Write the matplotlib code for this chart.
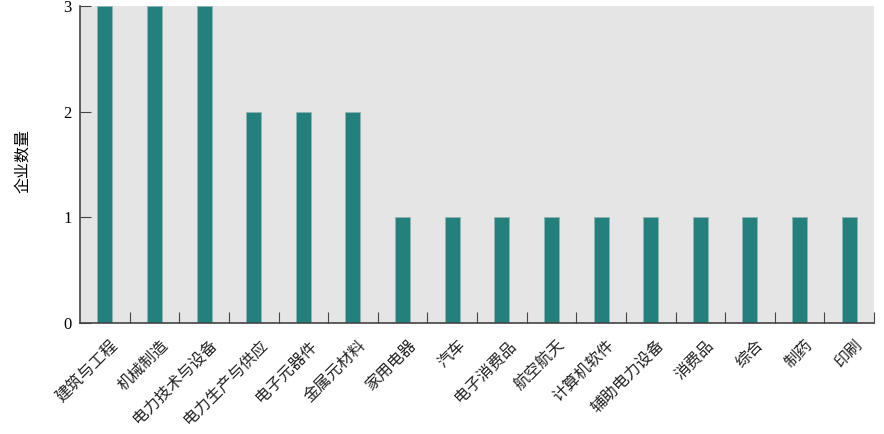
import matplotlib
matplotlib.use("Agg")
from matplotlib import pyplot as plt
import numpy as np

categories = ["建筑与工程", "机械制造", "电力技术与设备", "电力生产与供应", "电子元器件",
              "金属元材料", "家用电器", "汽车", "电子消费品", "航空航天", "计算机软件",
              "辅助电力设备", "消费品", "综合", "制药", "印刷"]
counts = [3, 3, 3, 2, 2, 2, 1, 1, 1, 1, 1, 1, 1, 1, 1, 1]

plt.rcParams['font.family'] = ['Noto Sans CJK SC', 'DejaVu Sans']

fig = plt.figure(figsize=(8.84, 4.34), dpi=100)
ax = fig.add_axes([80 / 884, 1 - 323 / 434, (874 - 80) / 884, (323 - 6) / 434])
ax.set_facecolor('#e5e5e5')

x = np.arange(len(categories))
ax.bar(x, counts, width=0.3, color='#24807c', edgecolor='#8fb5b2', linewidth=0.6)

ax.set_xlim(-0.5, len(categories) - 0.5)
ax.set_ylim(0, 3)

# ticks between the bars, pointing into the plot
ax.set_xticks(np.arange(0.5, len(categories), 1.0))
ax.set_xticklabels([])
ax.set_xticks(x + 0.1, minor=True)
ax.set_xticklabels(categories, minor=True, rotation=45, ha='right',
                   rotation_mode='anchor', fontsize=11.5, color='#222222')
ax.tick_params(axis='x', which='minor', length=0, pad=10)
ax.tick_params(axis='x', which='major', direction='in', length=8, color='#444444')

ax.set_yticks([0, 1, 2, 3])
ax.set_yticklabels(['0', '1', '2', '3'], family='Liberation Serif', fontsize=12)
ax.tick_params(axis='y', direction='in', length=8, color='#444444', pad=6)

for s in ['top', 'right']:
    ax.spines[s].set_visible(False)
for s in ['left', 'bottom']:
    ax.spines[s].set_color('#444444')
    ax.spines[s].set_linewidth(1.2)

ax.set_ylabel('企业数量', fontsize=11.5)
ax.yaxis.set_label_coords(-0.062, 0.51)

fig.savefig('out.png', dpi=100)
